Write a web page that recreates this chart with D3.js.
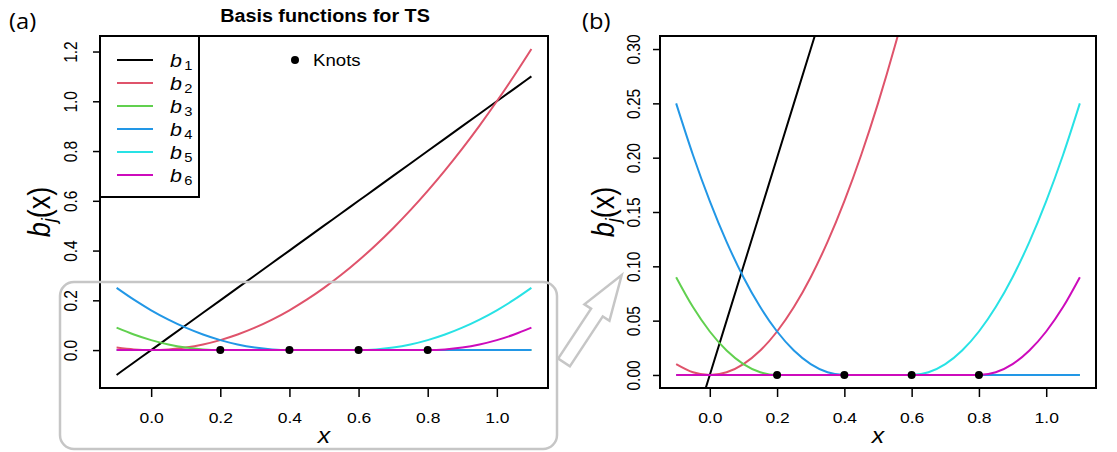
<!DOCTYPE html>
<html lang="en">
<head>
<meta charset="utf-8">
<script src="https://cdn.jsdelivr.net/npm/d3@7/dist/d3.min.js"></script>
<style>
  body { margin: 0; background: #fff; }
  text { font-family: "Liberation Sans", Arial, sans-serif; fill: #000; }
</style>
</head>
<body>
<script>
// x positions the curves were read at
var xs = [-0.1, -0.05, 0, 0.05, 0.1, 0.15, 0.2, 0.25, 0.3, 0.35, 0.4, 0.45, 0.5,
          0.55, 0.6, 0.65, 0.7, 0.75, 0.8, 0.85, 0.9, 0.95, 1.0, 1.05, 1.1];
// basis function values
var b1 = [-0.1, -0.05, 0, 0.05, 0.1, 0.15, 0.2, 0.25, 0.3, 0.35, 0.4, 0.45, 0.5,
          0.55, 0.6, 0.65, 0.7, 0.75, 0.8, 0.85, 0.9, 0.95, 1.0, 1.05, 1.1];
var b2 = [0.01, 0.0025, 0, 0.0025, 0.01, 0.0225, 0.04, 0.0625, 0.09, 0.1225, 0.16, 0.2025, 0.25,
          0.3025, 0.36, 0.4225, 0.49, 0.5625, 0.64, 0.7225, 0.81, 0.9025, 1.0, 1.1025, 1.21];
var b3 = [0.09, 0.0625, 0.04, 0.0225, 0.01, 0.0025, 0, 0, 0, 0, 0, 0, 0,
          0, 0, 0, 0, 0, 0, 0, 0, 0, 0, 0, 0];
var b4 = [0.25, 0.2025, 0.16, 0.1225, 0.09, 0.0625, 0.04, 0.0225, 0.01, 0.0025, 0, 0, 0,
          0, 0, 0, 0, 0, 0, 0, 0, 0, 0, 0, 0];
var b5 = [0, 0, 0, 0, 0, 0, 0, 0, 0, 0, 0, 0, 0,
          0, 0, 0.0025, 0.01, 0.0225, 0.04, 0.0625, 0.09, 0.1225, 0.16, 0.2025, 0.25];
var b6 = [0, 0, 0, 0, 0, 0, 0, 0, 0, 0, 0, 0, 0,
          0, 0, 0, 0, 0, 0, 0.0025, 0.01, 0.0225, 0.04, 0.0625, 0.09];
var series = [b1, b2, b3, b4, b5, b6];
var seriesLabels = ["1", "2", "3", "4", "5", "6"];
var colors = ["#000000", "#DF536B", "#61D04F", "#2297E6", "#28E2E5", "#CD0BBC"];
var knots = [0.2, 0.4, 0.6, 0.8];

var xTicks = [0, 0.2, 0.4, 0.6, 0.8, 1.0];
var yTicksA = [0, 0.2, 0.4, 0.6, 0.8, 1.0, 1.2];
var yTicksB = [0, 0.05, 0.10, 0.15, 0.20, 0.25, 0.30];

var width = 1117, height = 452;
var SX = 1.13; // the picture's text is a little wider than tall

var svg = d3.select("body").append("svg")
  .attr("width", width)
  .attr("height", height);

// R style padding of the data range
function pad(ext) {
  var p = (ext[1] - ext[0]) * 0.04;
  return [ext[0] - p, ext[1] + p];
}

function stext(g, x, y, str, size, rot) {
  return g.append("text")
    .attr("transform", "translate(" + x + "," + y + ") scale(" + SX + ",1)" + (rot ? " rotate(-90)" : ""))
    .style("font-size", size + "px")
    .text(str);
}

function panel(o) {
  var g = svg.append("g");
  var x = d3.scaleLinear().domain(pad(d3.extent(xs))).range([o.left, o.right]);
  var y = d3.scaleLinear().domain(pad(o.ylim)).range([o.bottom, o.top]);

  g.append("clipPath").attr("id", o.id)
    .append("rect")
    .attr("x", o.left).attr("y", o.top)
    .attr("width", o.right - o.left).attr("height", o.bottom - o.top);

  var line = d3.line()
    .x(function (d) { return x(d[0]); })
    .y(function (d) { return y(d[1]); })
    .curve(d3.curveMonotoneX);

  var lines = g.append("g").attr("clip-path", "url(#" + o.id + ")");
  series.forEach(function (s, i) {
    lines.append("path")
      .datum(xs.map(function (v, k) { return [v, s[k]]; }))
      .attr("d", line)
      .attr("fill", "none")
      .attr("stroke", colors[i])
      .attr("stroke-width", 2);
  });

  lines.selectAll("circle.knot")
    .data(knots)
    .join("circle")
    .attr("class", "knot")
    .attr("cx", function (d) { return x(d); })
    .attr("cy", y(0))
    .attr("r", 4)
    .attr("fill", "#000");

  // x axis
  var xa = g.append("g")
    .attr("transform", "translate(0," + o.bottom + ")")
    .call(d3.axisBottom(x).tickValues(xTicks).tickSize(9).tickFormat(d3.format(".1f")));
  xa.select(".domain").remove();
  xa.selectAll("line").attr("stroke-width", 1.5);
  xa.selectAll("text")
    .attr("y", null).attr("dy", null)
    .attr("transform", "translate(0,35) scale(" + SX + ",1)")
    .style("font-size", "15.5px")
    .style("font-family", "Liberation Sans, Arial, sans-serif");

  // y axis
  var ya = g.append("g")
    .attr("transform", "translate(" + o.left + ",0)")
    .call(d3.axisLeft(y).tickValues(o.yTicks).tickSize(7).tickFormat(d3.format(o.yFmt)));
  ya.select(".domain").remove();
  ya.selectAll("line").attr("stroke-width", 1.5);
  ya.selectAll("text")
    .attr("x", null).attr("dy", null)
    .attr("text-anchor", "middle")
    .attr("transform", "translate(" + (-o.ylabOff) + ",0) scale(" + SX + ",1) rotate(-90)")
    .style("font-size", "15.5px")
    .style("font-family", "Liberation Sans, Arial, sans-serif");

  // box
  g.append("rect")
    .attr("x", o.left).attr("y", o.top)
    .attr("width", o.right - o.left).attr("height", o.bottom - o.top)
    .attr("fill", "none").attr("stroke", "#000").attr("stroke-width", 2);

  // axis titles
  stext(g, (o.left + o.right) / 2, 443, "x", 22, false)
    .attr("text-anchor", "middle")
    .style("font-style", "italic");

  var yl = g.append("text")
    .attr("transform", "translate(" + o.ytitleX + "," + ((o.top + o.bottom) / 2) + ") scale(" + SX + ",1) rotate(-90)")
    .attr("text-anchor", "middle")
    .style("font-size", "27px");
  yl.append("tspan").style("font-style", "italic").text("b");
  yl.append("tspan").style("font-style", "italic").style("font-size", "18px").attr("dy", 5).text("j");
  yl.append("tspan").attr("dy", -5).text("(x)");

  stext(g, o.tagX, 29, o.tag, 21, false).style("font-family", "'Open Sans', sans-serif");

  return { g: g, x: x, y: y };
}

var pa = panel({
  id: "clipA", left: 100, right: 548, top: 36, bottom: 388,
  ylim: [d3.min(series, function (s) { return d3.min(s); }), d3.max(series, function (s) { return d3.max(s); })],
  yTicks: yTicksA, yFmt: ".1f", ylabOff: 23, ytitleX: 50, tag: "(a)", tagX: 9
});

var pb = panel({
  id: "clipB", left: 660, right: 1096, top: 36, bottom: 388,
  ylim: [0, 0.3],
  yTicks: yTicksB, yFmt: ".2f", ylabOff: 20, ytitleX: 614, tag: "(b)", tagX: 582
});

// title of panel (a)
stext(pa.g, 325, 22, "Basis functions for TS", 17.5, false)
  .attr("text-anchor", "middle")
  .style("font-weight", "bold");

// legend
var leg = pa.g.append("g");
leg.append("rect")
  .attr("x", 100).attr("y", 36).attr("width", 99).attr("height", 161)
  .attr("fill", "#fff").attr("stroke", "#000").attr("stroke-width", 2);
seriesLabels.forEach(function (lab, i) {
  var ly = 60 + i * 23;
  leg.append("line")
    .attr("x1", 117).attr("x2", 153).attr("y1", ly).attr("y2", ly)
    .attr("stroke", colors[i]).attr("stroke-width", 2);
  var t = leg.append("text")
    .attr("transform", "translate(170," + (ly + 6.5) + ") scale(" + SX + ",1)")
    .style("font-size", "19px");
  t.append("tspan").style("font-style", "italic").text("b");
  t.append("tspan").attr("dx", 2).attr("dy", 3.5).style("font-size", "13px").text(lab);
});

leg.append("circle").attr("cx", 295).attr("cy", 60).attr("r", 4).attr("fill", "#000");
stext(leg, 313, 66, "Knots", 16.5, false);

// zoom marker: rounded box and hollow arrow
svg.append("rect")
  .attr("x", 60).attr("y", 282).attr("width", 497).attr("height", 167)
  .attr("rx", 14).attr("ry", 14)
  .attr("fill", "none").attr("stroke", "#c6c6c6").attr("stroke-width", 2.5);

var tip = [621.7, 275], tail = [564, 362.5];
var dx = tip[0] - tail[0], dy = tip[1] - tail[1], len = Math.sqrt(dx * dx + dy * dy);
var u = [dx / len, dy / len], n = [-u[1], u[0]];
var hl = 45, bw = 7, hw = 15;
var hb = [tip[0] - u[0] * hl, tip[1] - u[1] * hl];
function pt(p, k) { return [p[0] + n[0] * k, p[1] + n[1] * k]; }
var arrow = [pt(tail, bw), pt(hb, bw), pt(hb, hw), tip, pt(hb, -hw), pt(hb, -bw), pt(tail, -bw)];
svg.append("polygon")
  .attr("points", arrow.map(function (p) { return p.join(","); }).join(" "))
  .attr("fill", "#fff").attr("stroke", "#c6c6c6").attr("stroke-width", 2.5)
  .attr("stroke-linejoin", "miter");
</script>
</body>
</html>
